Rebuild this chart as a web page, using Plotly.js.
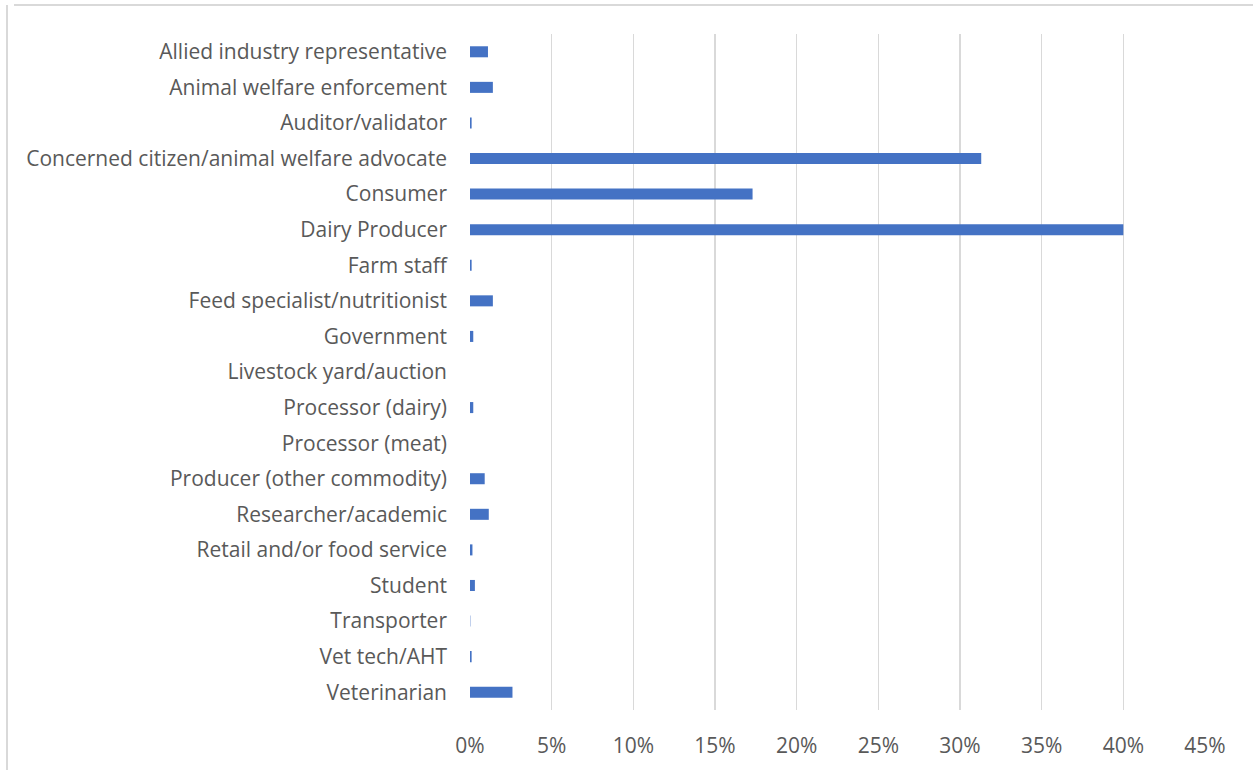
<!DOCTYPE html>
<html>
<head>
<meta charset="utf-8">
<script src="https://cdn.plot.ly/plotly-3.0.1.min.js"></script>
<style>
html,body{margin:0;padding:0;background:#fff;}
#chart{width:1253px;height:770px;}
</style>
</head>
<body>
<div id="chart"></div>
<script>
const categories = [
  "Allied industry representative",
  "Animal welfare enforcement",
  "Auditor/validator",
  "Concerned citizen/animal welfare advocate",
  "Consumer",
  "Dairy Producer",
  "Farm staff",
  "Feed specialist/nutritionist",
  "Government",
  "Livestock yard/auction",
  "Processor (dairy)",
  "Processor (meat)",
  "Producer (other commodity)",
  "Researcher/academic",
  "Retail and/or food service",
  "Student",
  "Transporter",
  "Vet tech/AHT",
  "Veterinarian"
];
const percentValues = [1.1, 1.4, 0.1, 31.3, 17.3, 40.0, 0.1, 1.4, 0.2, 0, 0.2, 0, 0.9, 1.15, 0.15, 0.3, 0.02, 0.1, 2.6];
const xTickValues = [0, 5, 10, 15, 20, 25, 30, 35, 40, 45];
const xTickLabels = ["0%", "5%", "10%", "15%", "20%", "25%", "30%", "35%", "40%", "45%"];

const fontFam = "'Open Sans', sans-serif";
const trace = {
  type: "bar",
  orientation: "h",
  y: categories,
  x: percentValues,
  marker: {color: "#4472C4"},
  hoverinfo: "x+y"
};
const layout = {
  width: 1253, height: 770,
  margin: {l: 470, r: 48, t: 34, b: 60},
  paper_bgcolor: "#fff", plot_bgcolor: "#fff",
  bargap: 0.69,
  showlegend: false,
  font: {family: fontFam, size: 21, color: "#595959"},
  xaxis: {
    range: [0, 45],
    tickvals: xTickValues,
    ticktext: xTickLabels,
    showgrid: true, gridcolor: "#D9D9D9", gridwidth: 1.5,
    zeroline: false, showline: false, ticks: "",
    ticklabelstandoff: 21,
    tickfont: {family: fontFam, size: 21, color: "#595959"}
  },
  yaxis: {
    type: "category",
    autorange: "reversed",
    showgrid: false, zeroline: false, showline: false, ticks: "",
    ticklabelstandoff: 22,
    tickfont: {family: fontFam, size: 21, color: "#595959"}
  },
  shapes: [
    {type: "line", xref: "paper", yref: "paper", x0: -456/735, x1: 1.1, y0: 1 + 29/676, y1: 1 + 29/676, line: {color: "#D9D9D9", width: 2}},
    {type: "line", xref: "paper", yref: "paper", x0: -463/735, x1: -463/735, y0: 1 + 29/676, y1: -0.2, line: {color: "#D9D9D9", width: 2}}
  ]
};
Plotly.newPlot("chart", [trace], layout, {displayModeBar: false, staticPlot: true});
</script>
</body>
</html>
